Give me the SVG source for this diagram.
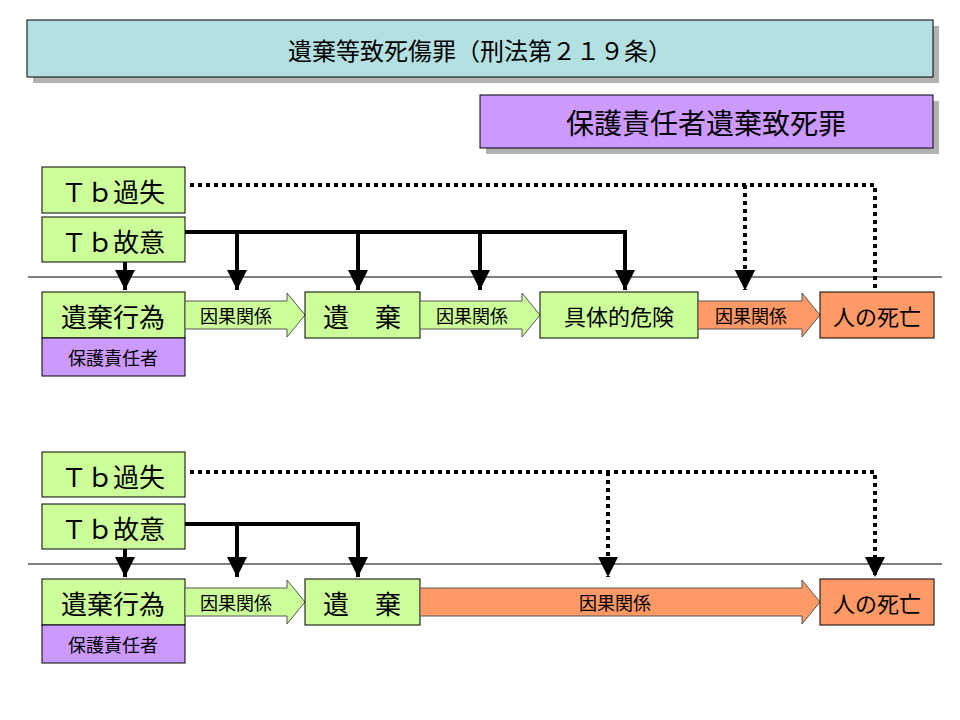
<svg xmlns="http://www.w3.org/2000/svg" width="960" height="720" viewBox="0 0 960 720">
<style>
text{font-family:"Noto Sans CJK JP","Liberation Sans",sans-serif;fill:#000;text-anchor:middle;dominant-baseline:central}
.g{fill:#ccff99;stroke:#000;stroke-width:1}
.o{fill:#ff9966;stroke:#000;stroke-width:1}
.p{fill:#cc99ff;stroke:#000;stroke-width:1}
.ga{fill:#ccff99;stroke:#555;stroke-width:1}
.oa{fill:#ff9966;stroke:#555;stroke-width:1}
.s{fill:none;stroke:#000;stroke-width:4}
.d{fill:none;stroke:#000;stroke-width:4;stroke-dasharray:4 4}
.t{font-size:26px}
.m{font-size:20px}
.sm{font-size:18px}
</style>
<defs><marker id="ah" viewBox="0 0 10 10" refX="10" refY="5" markerWidth="5" markerHeight="6" markerUnits="strokeWidth" orient="auto"><path d="M0,0L10,5L0,10z" fill="#000"/></marker></defs>
<g id="title"><rect x="33" y="26" width="906" height="57" fill="#b2b2b2"/><rect x="27" y="20" width="906" height="57" fill="#b3e0e0" stroke="#000"/><text x="480" y="49" class="m" style="font-size:24px">遺棄等致死傷罪（刑法第２１９条）</text></g>
<g id="crime"><rect x="486" y="101" width="453" height="53" fill="#b2b2b2"/><rect x="480" y="95" width="453" height="53" class="p"/><text x="706" y="122" style="font-size:28px">保護責任者遺棄致死罪</text></g>
<g id="lines"><line x1="28" y1="277" x2="942" y2="277" stroke="#000"/><line x1="28" y1="564" x2="942" y2="564" stroke="#000"/></g>
<g id="connectors">
<path class="d" d="M190,185H875V290M745,185V290" marker-end="url(#ah)"/>
<path class="d" d="M745,185V290" marker-end="url(#ah)"/>
<path class="s" d="M125,262V290" marker-end="url(#ah)"/>
<path class="s" d="M185,232H625V290" marker-end="url(#ah)"/>
<path class="s" d="M237,232V290" marker-end="url(#ah)"/>
<path class="s" d="M358,232V290" marker-end="url(#ah)"/>
<path class="s" d="M480,232V290" marker-end="url(#ah)"/>
<path class="d" d="M190,472H875V577" marker-end="url(#ah)"/>
<path class="d" d="M608,472V577" marker-end="url(#ah)"/>
<path class="s" d="M125,549V577" marker-end="url(#ah)"/>
<path class="s" d="M185,524H358V577" marker-end="url(#ah)"/>
<path class="s" d="M237,524V577" marker-end="url(#ah)"/>
</g>
<g id="top-kashitsu"><rect x="42" y="167" width="143" height="46" class="g"/><text x="113" y="190" class="t">Ｔｂ過失</text></g>
<g id="top-koi"><rect x="42" y="217" width="143" height="45" class="g"/><text x="113" y="240" class="t">Ｔｂ故意</text></g>
<g id="top-act"><rect x="42" y="292" width="143" height="46" class="g"/><text x="113" y="315" class="t">遺棄行為</text><rect x="42" y="338" width="143" height="38" class="p"/><text x="113" y="357" class="sm">保護責任者</text></g>
<g id="top-a1"><path class="ga" d="M185,301H287V293L305,315L287,337V329H185z"/><text x="236" y="315" class="sm">因果関係</text></g>
<g id="top-iki"><rect x="305" y="292" width="115" height="46" class="g"/><text x="362" y="315" class="t">遺　棄</text></g>
<g id="top-a2"><path class="ga" d="M420,301H522V293L540,315L522,337V329H420z"/><text x="472" y="315" class="sm">因果関係</text></g>
<g id="top-danger"><rect x="540" y="292" width="158" height="46" class="g"/><text x="619" y="315" class="m" style="font-size:22px">具体的危険</text></g>
<g id="top-a3"><path class="oa" d="M698,301H802V293L820,315L802,337V329H698z"/><text x="751" y="315" class="sm">因果関係</text></g>
<g id="top-death"><rect x="820" y="292" width="114" height="46" class="o"/><text x="877" y="315" class="m" style="font-size:22px">人の死亡</text></g>
<g id="bot-kashitsu"><rect x="42" y="452" width="143" height="45" class="g"/><text x="113" y="475" class="t">Ｔｂ過失</text></g>
<g id="bot-koi"><rect x="42" y="504" width="143" height="45" class="g"/><text x="113" y="527" class="t">Ｔｂ故意</text></g>
<g id="bot-act"><rect x="42" y="579" width="143" height="46" class="g"/><text x="113" y="602" class="t">遺棄行為</text><rect x="42" y="625" width="143" height="38" class="p"/><text x="113" y="644" class="sm">保護責任者</text></g>
<g id="bot-a1"><path class="ga" d="M185,588H287V580L305,602L287,624V616H185z"/><text x="236" y="602" class="sm">因果関係</text></g>
<g id="bot-iki"><rect x="305" y="579" width="115" height="46" class="g"/><text x="362" y="602" class="t">遺　棄</text></g>
<g id="bot-a2"><path class="oa" d="M420,588H802V580L820,602L802,624V616H420z"/><text x="615" y="602" class="sm">因果関係</text></g>
<g id="bot-death"><rect x="820" y="579" width="114" height="46" class="o"/><text x="877" y="602" class="m" style="font-size:22px">人の死亡</text></g>
</svg>
